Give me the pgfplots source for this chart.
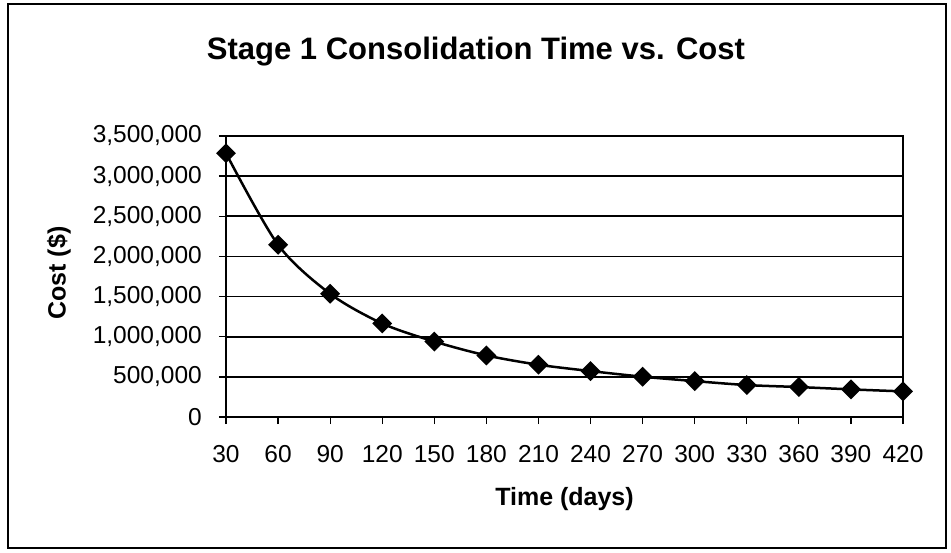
\documentclass[border=0pt]{standalone}
\usepackage{fontspec}
\setmainfont{Liberation Sans}
\usepackage{pgfplots}
\pgfplotsset{compat=1.18}
\begin{document}
\begin{tikzpicture}[x=1pt,y=1pt]
\useasboundingbox (0,0) rectangle (951,552);
\draw[line width=1.3pt] (8,4) rectangle (946,548);
\node[font=\fontsize{31}{36}\selectfont\bfseries, anchor=base] at (476,492) {Stage 1 Consolidation Time vs. Cost};
\begin{axis}[
 at={(226pt,135pt)}, anchor=south west, scale only axis,
 width=677pt, height=281pt,
 xmin=30, xmax=420, ymin=0, ymax=3500000,
 xtick={30,60,...,420}, ytick={0,500000,...,3500000},
 ymajorgrids, grid style={black, line width=1.6pt},
 axis line style={line width=1.8pt},
 tick style={black, line width=1.3pt}, tick align=outside, major tick length=7pt,
 tick pos=left,
 scaled y ticks=false,
 yticklabel style={/pgf/number format/.cd, fixed, 1000 sep={,}, assume math mode=true},
 xticklabel style={/pgf/number format/.cd, assume math mode=true},
 ticklabel style={font=\fontsize{24.5}{29}\selectfont, inner sep=0pt},
 xticklabel shift=21pt, yticklabel shift=17pt,
 xlabel={Time (days)}, ylabel={Cost (\$)},
 label style={font=\fontsize{25}{30}\selectfont\bfseries},
 xlabel style={at={(axis description cs:0.5,-0.292)}, anchor=center},
 ylabel style={at={(axis description cs:-0.2467,0.512)}, anchor=center},
]
\addplot[black, line width=2.5pt, smooth, mark=square*, mark size=5.8pt, mark options={solid, rotate=45}] coordinates {
 (30,3285000) (60,2145000) (90,1535000) (120,1165000) (150,940000)
 (180,767000) (210,651000) (240,572000) (270,502000) (300,447000)
 (330,398000) (360,373000) (390,344000) (420,319000)
};
\end{axis}
\end{tikzpicture}
\end{document}
